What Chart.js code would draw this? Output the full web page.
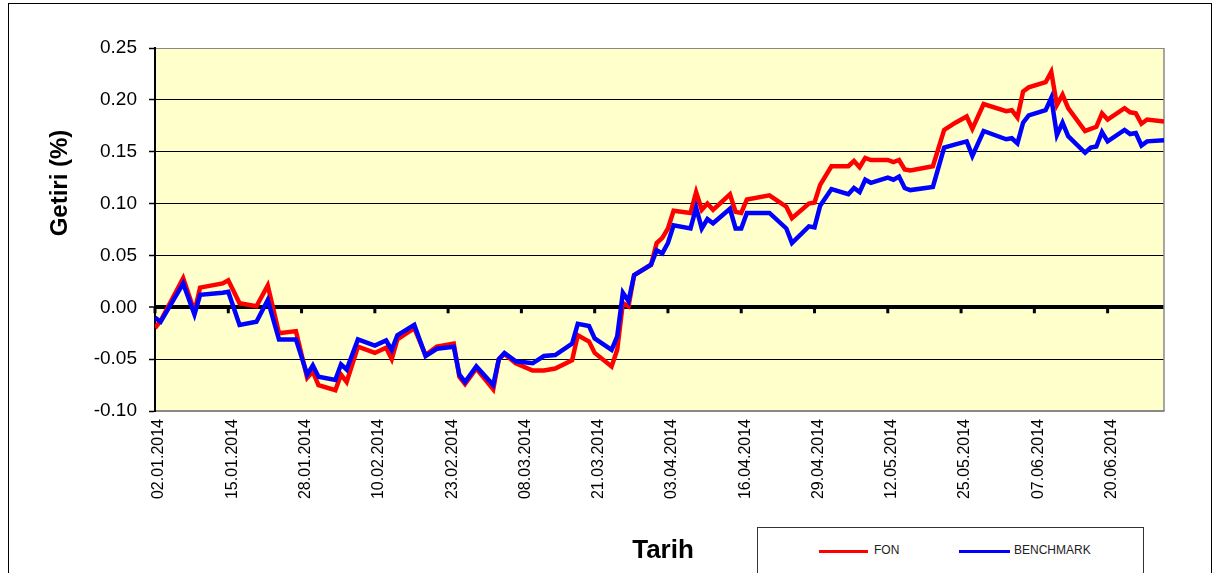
<!DOCTYPE html>
<html>
<head>
<meta charset="utf-8">
<script src="https://cdn.jsdelivr.net/npm/chart.js@4.4.1/dist/chart.umd.min.js"></script>
<style>
  body { margin: 0; background: #fff; font-family: "Liberation Sans", Arial, sans-serif; }
  #wrap { position: relative; width: 1216px; height: 573px; overflow: hidden; }
  #frame { position: absolute; left: 8px; top: 3px; width: 1202px; height: 620px; border: 1.5px solid #000; }
  #myChart { position: absolute; left: 0; top: 0; }
  #legend { position: absolute; left: 757px; top: 527px; width: 385px; height: 60px; border: 1px solid #333; background: #fff; }
  .swatch { position: absolute; top: 22px; height: 3px; }
  .lbl { position: absolute; top: 15px; font-size: 12px; color: #222; }
</style>
</head>
<body>
<div id="wrap">
  <div id="frame"></div>
  <canvas id="myChart" width="1216" height="573"></canvas>
  <div id="legend">
    <div class="swatch" style="left:61px;width:49px;background:#ff0000"></div>
    <div class="lbl" style="left:116px">FON</div>
    <div class="swatch" style="left:201px;width:51px;background:#0000ff"></div>
    <div class="lbl" style="left:256px">BENCHMARK</div>
  </div>
</div>
<script>
// gun sayisi 02.01.2014'ten itibaren
const days = [0, 1, 5, 7, 8, 12, 13, 15, 18, 20, 22, 25, 27, 28, 29, 32, 33, 34, 36, 39,
  41, 42, 43, 46, 48, 50, 53, 54, 55, 57, 60, 61, 62, 64, 67, 69, 71, 74, 75, 77,
  78, 81, 82, 83, 84, 85, 88, 89, 90, 91, 92, 95, 96, 97, 98, 99, 102, 103, 104, 105,
  109, 112, 113, 116, 117, 118, 120, 123, 124, 125, 126, 127, 130, 131, 132, 133, 134, 138, 140, 142,
  144, 145, 147, 151, 152, 153, 154, 155, 158, 159, 160, 161, 162, 165, 166, 167, 168, 169, 172, 173,
  174, 175, 176, 179];

const fon = [-0.020, -0.013, 0.028, -0.004, 0.019, 0.023, 0.026, 0.004, 0.001, 0.021, -0.025, -0.023, -0.068, -0.062, -0.075, -0.080, -0.065, -0.072, -0.038, -0.044,
  -0.039, -0.050, -0.031, -0.020, -0.046, -0.038, -0.035, -0.067, -0.074, -0.059, -0.079, -0.050, -0.045, -0.054, -0.061, -0.061, -0.059, -0.051, -0.027, -0.033,
  -0.044, -0.057, -0.041, 0.004, 0.001, 0.031, 0.041, 0.062, 0.067, 0.076, 0.093, 0.091, 0.111, 0.094, 0.100, 0.094, 0.109, 0.092, 0.091, 0.104,
  0.108, 0.097, 0.086, 0.100, 0.101, 0.118, 0.136, 0.136, 0.141, 0.135, 0.144, 0.142, 0.142, 0.140, 0.142, 0.133, 0.132, 0.136, 0.171, 0.178,
  0.184, 0.172, 0.196, 0.189, 0.190, 0.183, 0.208, 0.212, 0.217, 0.227, 0.195, 0.205, 0.192, 0.170, 0.172, 0.174, 0.187, 0.181, 0.192, 0.188,
  0.187, 0.177, 0.181, 0.179];

const benchmark = [-0.010, -0.014, 0.023, -0.007, 0.012, 0.014, 0.015, -0.017, -0.014, 0.007, -0.031, -0.031, -0.065, -0.056, -0.067, -0.070, -0.055, -0.060, -0.031, -0.037,
  -0.032, -0.041, -0.027, -0.017, -0.047, -0.040, -0.038, -0.065, -0.072, -0.057, -0.075, -0.050, -0.044, -0.052, -0.054, -0.047, -0.046, -0.035, -0.016, -0.018,
  -0.030, -0.041, -0.028, 0.014, 0.006, 0.031, 0.041, 0.055, 0.052, 0.062, 0.079, 0.076, 0.096, 0.076, 0.085, 0.081, 0.095, 0.076, 0.076, 0.091,
  0.091, 0.076, 0.062, 0.078, 0.077, 0.098, 0.114, 0.109, 0.115, 0.111, 0.123, 0.120, 0.125, 0.123, 0.126, 0.115, 0.113, 0.116, 0.154, 0.157,
  0.160, 0.146, 0.170, 0.162, 0.163, 0.158, 0.178, 0.185, 0.190, 0.202, 0.166, 0.178, 0.165, 0.149, 0.154, 0.155, 0.169, 0.160, 0.171, 0.167,
  0.168, 0.156, 0.160, 0.161];

const yTicks = [-0.10, -0.05, 0.00, 0.05, 0.10, 0.15, 0.20, 0.25];

const formatDate = (v) => {
  const d = new Date(2014, 0, 2 + v);
  const dd = String(d.getDate()).padStart(2, "0");
  const mm = String(d.getMonth() + 1).padStart(2, "0");
  return `${dd}.${mm}.${d.getFullYear()}`;
};

const points = (values) => days.map((d, i) => ({ x: d, y: values[i] }));

const plotDecor = {
  id: "plotDecor",
  beforeDraw(chart) {
    const { ctx, chartArea } = chart;
    ctx.save();
    ctx.fillStyle = "#ffffcc";
    ctx.fillRect(chartArea.left, chartArea.top, chartArea.right - chartArea.left, chartArea.bottom - chartArea.top);
    ctx.restore();
  },
  beforeDatasetsDraw(chart) {
    const { ctx, chartArea, scales } = chart;
    const zero = scales.y.getPixelForValue(0);
    ctx.save();
    ctx.strokeStyle = "#888";
    ctx.lineWidth = 1.5;
    ctx.beginPath();
    ctx.moveTo(chartArea.right, chartArea.top);
    ctx.lineTo(chartArea.right, chartArea.bottom);
    ctx.stroke();
    ctx.fillStyle = "#000";
    scales.x.ticks.forEach((t) => {
      const px = scales.x.getPixelForValue(t.value);
      ctx.fillRect(px - 1.5, zero, 3, 6);
    });
    ctx.restore();
  },
  afterDraw(chart) {
    const { ctx } = chart;
    ctx.save();
    ctx.fillStyle = "#000";
    ctx.textAlign = "center";
    ctx.textBaseline = "middle";
    ctx.font = "bold 24px 'Liberation Sans', Arial, sans-serif";
    ctx.translate(60, 183);
    ctx.rotate(-Math.PI / 2);
    ctx.fillText("Getiri (%)", 0, 0);
    ctx.restore();
    ctx.save();
    ctx.fillStyle = "#000";
    ctx.textAlign = "center";
    ctx.textBaseline = "middle";
    ctx.font = "bold 26px 'Liberation Sans', Arial, sans-serif";
    ctx.fillText("Tarih", 663, 551);
    ctx.restore();
  },
};

const ctx = document.getElementById("myChart");
new Chart(ctx, {
  type: "line",
  data: {
    datasets: [
      {
        label: "FON",
        data: points(fon),
        borderColor: "#ff0000",
        borderWidth: 4.5,
        pointRadius: 0,
        tension: 0,
        order: 1,
      },
      {
        label: "BENCHMARK",
        data: points(benchmark),
        borderColor: "#0000ff",
        borderWidth: 4.5,
        pointRadius: 0,
        tension: 0,
        order: 0,
      },
    ],
  },
  options: {
    responsive: false,
    animation: false,
    devicePixelRatio: 1,
    layout: { padding: { top: 48, right: 52, left: 0, bottom: 0 } },
    plugins: { legend: { display: false }, tooltip: { enabled: false } },
    scales: {
      x: {
        type: "linear",
        min: 0,
        max: 179,
        afterBuildTicks: (scale) => {
          const t = [];
          for (let v = 0; v <= 179; v += 13) t.push({ value: v });
          scale.ticks = t;
        },
        afterFit: (scale) => { scale.height = 162; },
        grid: { display: false, drawTicks: false },
        border: { display: true, color: "#888", width: 1.5 },
        ticks: {
          minRotation: 90,
          maxRotation: 90,
          padding: 8,
          labelOffset: 4,
          color: "#000",
          font: { family: "'Liberation Sans', Arial, sans-serif", size: 16 },
          callback: (v) => formatDate(v),
        },
      },
      y: {
        min: -0.1,
        max: 0.25,
        afterBuildTicks: (scale) => {
          scale.ticks = yTicks.map((v) => ({ value: v }));
        },
        afterFit: (scale) => { scale.width = 155; },
        border: { display: true, color: "#000", width: 2 },
        grid: {
          color: (c) => (c.tick && (c.tick.value >= 0.25 || c.tick.value <= -0.1) ? "#888" : "#000"),
          lineWidth: (c) => (c.tick && Math.abs(c.tick.value) < 1e-9 ? 4 : 1),
          tickColor: "#000",
          tickWidth: 1.5,
          tickLength: 6,
        },
        ticks: {
          padding: 12,
          color: "#000",
          font: { family: "'Liberation Sans', Arial, sans-serif", size: 19 },
          callback: (v) => v.toFixed(2),
        },
      },
    },
  },
  plugins: [plotDecor],
});
</script>
</body>
</html>
